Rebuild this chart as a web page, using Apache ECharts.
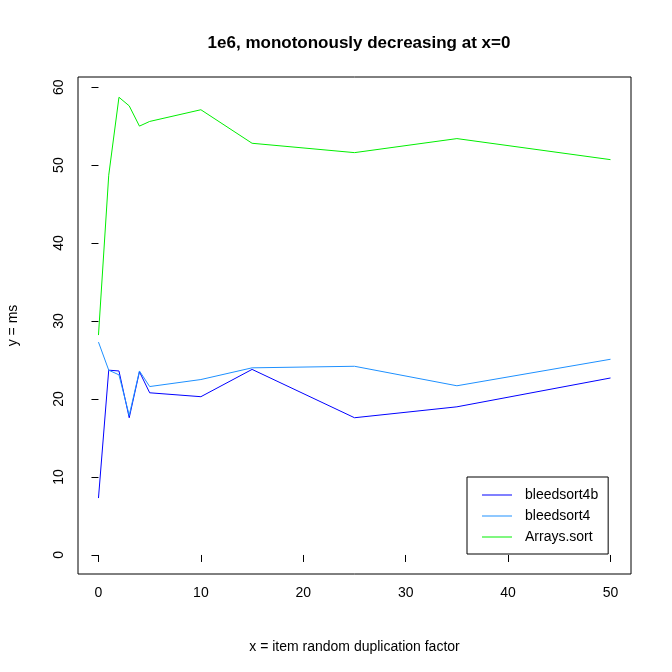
<!DOCTYPE html>
<html>
<head>
<meta charset="utf-8">
<script src="https://cdn.jsdelivr.net/npm/echarts@6/dist/echarts.min.js"></script>
<style>html,body{margin:0;padding:0;background:#fff}#main{width:672px;height:672px}</style>
</head>
<body>
<div id="main"></div>
<script>
var xs = [0, 1, 2, 3, 4, 5, 10, 15, 25, 35, 50];
var bleedsort4b = [7.3, 23.7, 23.6, 17.6, 23.5, 20.8, 20.3, 23.8, 17.6, 19.0, 22.7];
var bleedsort4 = [27.3, 23.7, 23.1, 17.9, 23.6, 21.6, 22.5, 24.0, 24.2, 21.7, 25.1];
var arraysSort = [28.2, 48.7, 58.7, 57.6, 55.0, 55.6, 57.1, 52.8, 51.6, 53.4, 50.7];
var xTicks = [0, 10, 20, 30, 40, 50];
var yTicks = [0, 10, 20, 30, 40, 50, 60];

function pairs(ys) { return xs.map(function (x, i) { return [x, ys[i]]; }); }

var font = 'Liberation Sans, Arial, sans-serif';
var chart = echarts.init(document.getElementById('main'));
function axis(min, max, ticks, name, gap, rot) {
    return {
        type: 'value', min: min, max: max, name: name, nameLocation: 'middle', nameGap: gap,
        nameTextStyle: { color: '#000', fontSize: 14, fontFamily: font },
        axisLine: { show: false },
        axisTick: { show: true, inside: false, length: 7, customValues: ticks, lineStyle: { color: '#000' } },
        axisLabel: { customValues: ticks, color: '#000', fontSize: 14, fontFamily: font, margin: 12, rotate: rot },
        splitLine: { show: false }
    };
}
chart.setOption({
    animation: false,
    title: { text: '1e6, monotonously decreasing at x=0', left: 354, top: 30, textAlign: 'center',
        textStyle: { fontSize: 17, fontWeight: 'bold', color: '#000', fontFamily: font } },
    grid: { left: 78, right: 41, top: 77, bottom: 98, show: true, borderColor: '#000', borderWidth: 1,
        containLabel: false, outerBoundsMode: 'none' },
    xAxis: axis(-2, 52, xTicks, 'x = item random duplication factor', 66, 0),
    yAxis: axis(-2.44, 61.3, yTicks, 'y = ms', 58, 90),
    legend: {
        orient: 'vertical', left: 467, top: 477, width: 148, height: 75,
        padding: [11, 10, 10, 15], borderColor: '#000', borderWidth: 1, itemWidth: 30, itemHeight: 1, itemGap: 7,
        icon: 'rect',
        textStyle: { fontSize: 14, lineHeight: 14, color: '#000', fontFamily: font, padding: [0, 0, 0, 8] },
        data: ['bleedsort4b', 'bleedsort4', 'Arrays.sort']
    },
    series: [
        { name: 'bleedsort4b', type: 'line', symbol: 'none', data: pairs(bleedsort4b), lineStyle: { color: '#0000ff', width: 1 }, itemStyle: { color: '#0000ff' } },
        { name: 'bleedsort4', type: 'line', symbol: 'none', data: pairs(bleedsort4), lineStyle: { color: '#1e90ff', width: 1 }, itemStyle: { color: '#1e90ff' } },
        { name: 'Arrays.sort', type: 'line', symbol: 'none', data: pairs(arraysSort), lineStyle: { color: '#00ee00', width: 1 }, itemStyle: { color: '#00ee00' } }
    ]
});
</script>
</body>
</html>
